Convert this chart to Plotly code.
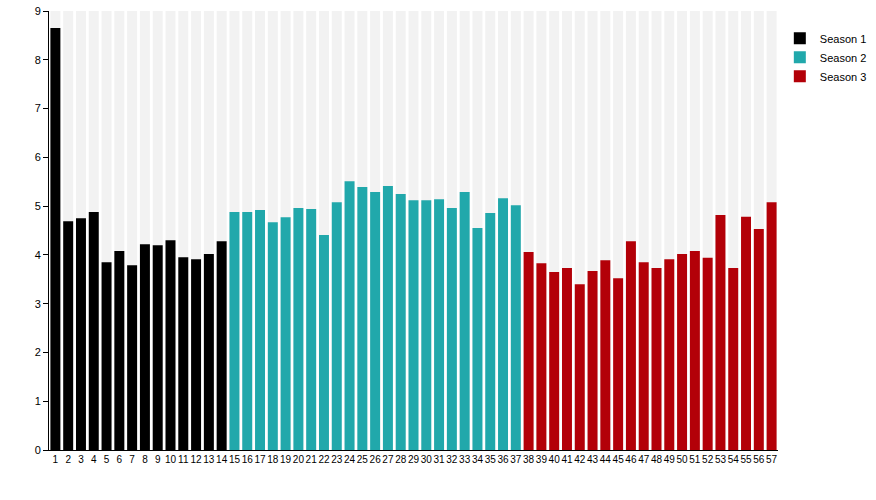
import plotly.graph_objects as go

# episode ratings per season
season1_eps = list(range(1, 15))
season1_vals = [8.65, 4.69, 4.75, 4.88, 3.85, 4.08, 3.79, 4.22, 4.20, 4.30,
                3.95, 3.91, 4.02, 4.28]
season2_eps = list(range(15, 38))
season2_vals = [4.88, 4.88, 4.92, 4.67, 4.77, 4.96, 4.94, 4.41, 5.08, 5.51,
                5.39, 5.29, 5.41, 5.25, 5.12, 5.12, 5.14, 4.96, 5.29, 4.55,
                4.86, 5.16, 5.02]
season3_eps = list(range(38, 58))
season3_vals = [4.06, 3.83, 3.65, 3.73, 3.40, 3.67, 3.89, 3.52, 4.28, 3.85,
                3.73, 3.91, 4.02, 4.08, 3.94, 4.82, 3.73, 4.78, 4.53, 5.08]

y_max = 9
all_eps = season1_eps + season2_eps + season3_eps
ep_labels = [str(e) for e in all_eps]

seasons = [
    ("Season 1", season1_eps, season1_vals, "#000000"),
    ("Season 2", season2_eps, season2_vals, "#21a8ab"),
    ("Season 3", season3_eps, season3_vals, "#b30008"),
]

fig = go.Figure()

# grey background columns
fig.add_trace(go.Bar(
    x=ep_labels,
    y=[y_max] * len(all_eps),
    marker=dict(color="#f2f2f2", line=dict(width=0)),
    showlegend=False,
    hoverinfo="skip",
))

for name, eps, vals, color in seasons:
    fig.add_trace(go.Bar(
        x=[str(e) for e in eps],
        y=vals,
        name=name,
        marker=dict(color=color, line=dict(width=0)),
    ))

fig.update_layout(
    width=876,
    height=500,
    barmode="overlay",
    bargap=0.22,
    plot_bgcolor="white",
    paper_bgcolor="white",
    font=dict(family="Liberation Sans, Arial, sans-serif", size=11, color="#000000"),
    margin=dict(l=49, r=98, t=11, b=50, autoexpand=False),
    legend=dict(
        x=1.0025, y=0.971, xanchor="left", yanchor="top",
        font=dict(size=11),
        itemwidth=30,
        tracegroupgap=0,
    ),
)
fig.update_xaxes(
    type="category",
    categoryorder="array",
    categoryarray=ep_labels,
    tickmode="array",
    tickvals=ep_labels,
    ticktext=ep_labels,
    tickangle=0,
    automargin=False,
    showline=True, linecolor="#000000", linewidth=1,
    showgrid=False, ticks="", tickfont=dict(size=10),
)
fig.update_yaxes(
    range=[0, y_max],
    dtick=1,
    automargin=False,
    showline=True, linecolor="#000000", linewidth=1,
    showgrid=False, zeroline=False,
    ticks="outside", ticklen=5, tickcolor="#000000",
    tickfont=dict(size=11),
)

fig.write_html(
    "out.html",
    config={"displayModeBar": False},
    post_script="document.body.style.margin='0';",
)
